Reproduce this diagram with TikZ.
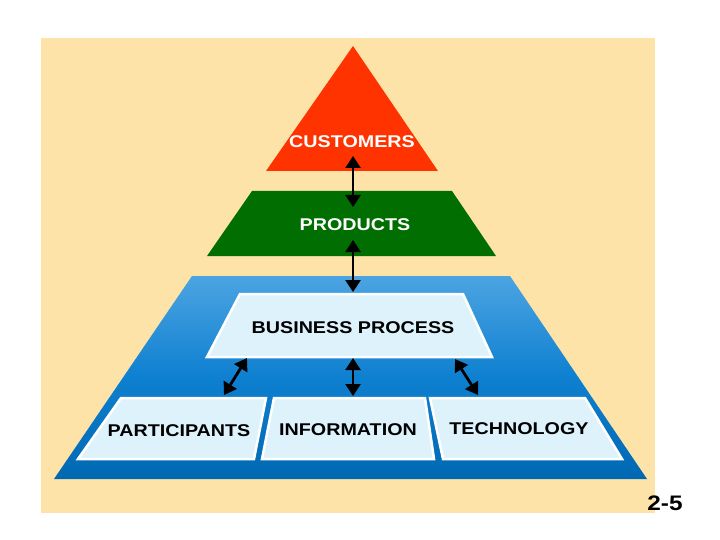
\documentclass[tikz,border=0pt]{standalone}
\usepackage{fontspec}
\newfontfamily\lab{Liberation Sans}[FakeStretch=1.16]
\usetikzlibrary{arrows.meta}
\definecolor{beige}{RGB}{253,227,167}
\definecolor{redtri}{RGB}{255,51,0}
\definecolor{greentr}{RGB}{0,110,0}
\definecolor{bluetop}{RGB}{76,164,226}
\definecolor{bluemid}{RGB}{14,128,208}
\definecolor{bluebot}{RGB}{0,104,178}
\definecolor{boxfill}{RGB}{222,242,252}
\tikzset{
  lbox/.style={draw=white, line width=2.5pt, fill=boxfill, line join=miter},
  whitetxt/.style={inner sep=0pt, text=white, font=\lab\bfseries\fontsize{17}{17}\selectfont},
  blacktxt/.style={inner sep=0pt, text=black, font=\lab\bfseries\fontsize{17}{17}\selectfont},
  dbl/.style={line width=2.8pt, {Triangle[width=15pt,length=12pt]}-{Triangle[width=15pt,length=12pt]}, shorten <=0pt, shorten >=0pt}
}
\begin{document}
\begin{tikzpicture}[x=1pt,y=-1pt]
\useasboundingbox (0,0) rectangle (720,540);
\fill[white] (0,0) rectangle (720,540);
\fill[beige] (41,38) rectangle (655,513);
% red triangle
\fill[redtri] (353,46) -- (438,171) -- (266,171) -- cycle;
% green trapezoid
\fill[greentr] (252,191) -- (452,191) -- (496,256) -- (207,256) -- cycle;
% blue trapezoid
\shade[top color=bluetop, bottom color=bluebot, middle color=bluemid] (192,276) -- (510,276) -- (647,479) -- (54,479) -- cycle;
% boxes
\path[lbox] (240,294) -- (463,294) -- (492,357) -- (207,357) -- cycle;
\path[lbox] (121,398) -- (266,398) -- (254,459) -- (78,459) -- cycle;
\path[lbox] (274,398) -- (425,398) -- (434,459) -- (262,459) -- cycle;
\path[lbox] (430,398) -- (585,398) -- (622,459) -- (443,459) -- cycle;
% labels
\node[whitetxt] (cust) at (352,142) {CUSTOMERS};
\node[whitetxt] (prod) at (355,225) {PRODUCTS};
\node[blacktxt] (bp) at (353,328) {BUSINESS PROCESS};
\node[blacktxt] (part) at (179,431) {PARTICIPANTS};
\node[blacktxt] (info) at (348,430) {INFORMATION};
\node[blacktxt] (tech) at (519,429) {TECHNOLOGY};
\node[inner sep=0pt, font=\lab\bfseries\fontsize{21}{21}\selectfont] (num) at (665,503) {2-5};
% arrow end points
\coordinate (c1) at (353,156);
\coordinate (p1) at (353,207);
\coordinate (p2) at (353,240);
\coordinate (b1) at (353,292);
\coordinate (b2) at (353,358);
\coordinate (i1) at (353,396);
\coordinate (b3) at (247,358);
\coordinate (pa1) at (224,395);
\coordinate (b4) at (455,359);
\coordinate (t1) at (478,395);
\draw[dbl] (c1) -- (p1);
\draw[dbl] (p2) -- (b1);
\draw[dbl] (b2) -- (i1);
\draw[dbl] (b3) -- (pa1);
\draw[dbl] (b4) -- (t1);
\end{tikzpicture}
\end{document}
